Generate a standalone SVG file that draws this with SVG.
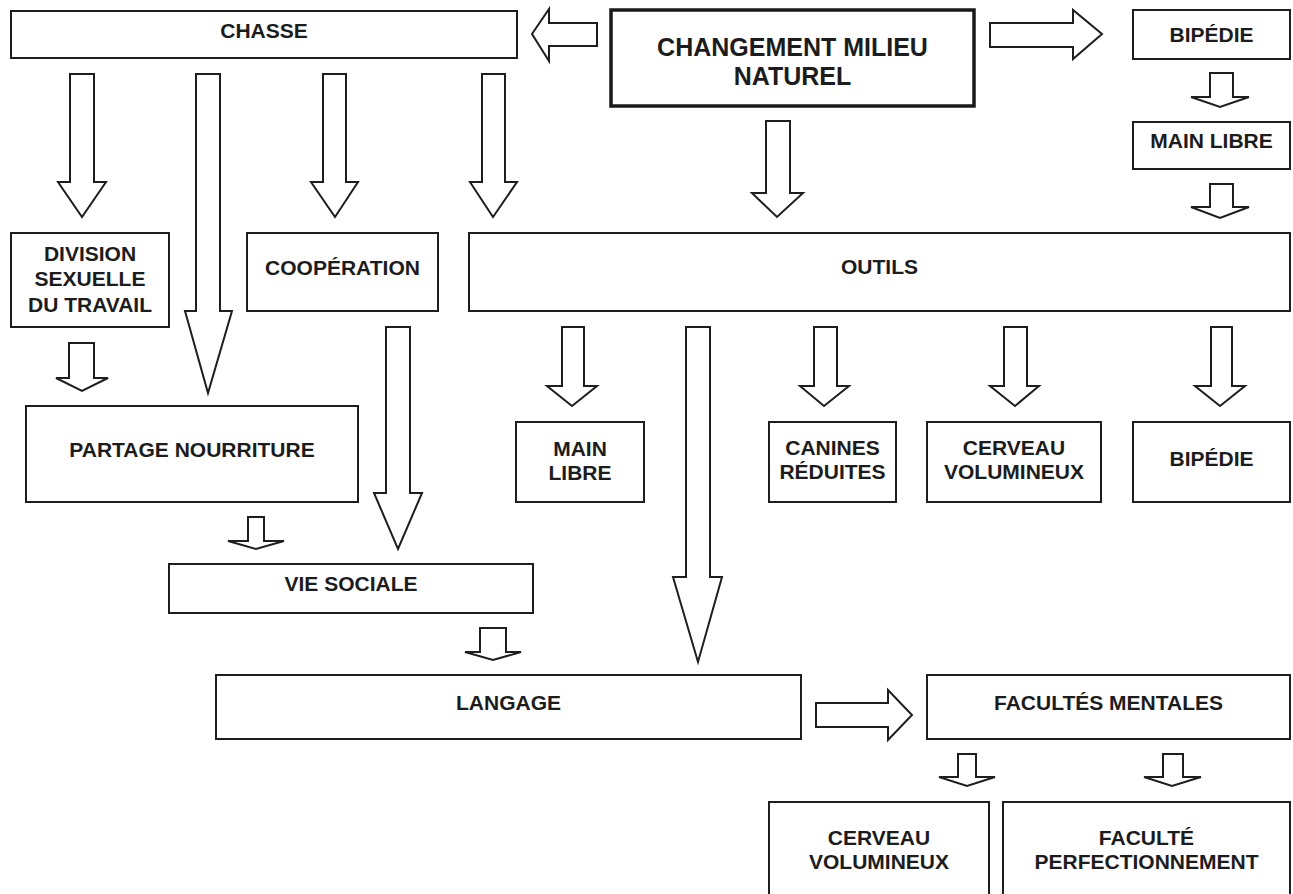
<svg xmlns="http://www.w3.org/2000/svg" width="1293" height="894" viewBox="0 0 1293 894">
  <style>
    .box { fill: #ffffff; stroke: #1e1e1e; stroke-width: 2; }
    .box-main { fill: #ffffff; stroke: #1a1a1a; stroke-width: 3.5; }
    .arrow { fill: #ffffff; stroke: #1e1e1e; stroke-width: 2; stroke-linejoin: miter; }
    .label { font-family: "Liberation Sans", Arial, Helvetica, sans-serif; font-weight: bold; font-size: 21px; fill: #1c1c1c; text-anchor: middle; }
    .label-main { font-family: "Liberation Sans", Arial, Helvetica, sans-serif; font-weight: bold; font-size: 25px; fill: #1c1c1c; text-anchor: middle; }
  </style>

  <rect x="0" y="0" width="1293" height="894" fill="#ffffff"/>

  <!-- Block arrows -->
  <g id="connectors">
    <!-- from CHANGEMENT MILIEU NATUREL -->
    <polygon class="arrow" points="597,23 597,46 549,46 549,61 532,34 549,9 549,23"/>
    <polygon class="arrow" points="990,23 1073,23 1073,10 1102,34 1073,59 1073,47 990,47"/>
    <polygon class="arrow" points="766,121 790,121 790,193 803,193 777,217 752,193 766,193"/>

    <!-- right column: BIPEDIE -> MAIN LIBRE -> OUTILS -->
    <polygon class="arrow" points="1210,73 1233,73 1233,97 1249,97 1220,107 1191,97 1210,97"/>
    <polygon class="arrow" points="1210,184 1233,184 1233,207 1249,207 1220,218 1191,207 1210,207"/>

    <!-- from CHASSE -->
    <polygon class="arrow" points="70,74 94,74 94,182 106,182 82,217 58,182 70,182"/>
    <polygon class="arrow" points="196,74 220,74 220,311 232,311 208,393 185,311 196,311"/>
    <polygon class="arrow" points="323,74 346,74 346,182 358,182 335,217 311,182 323,182"/>
    <polygon class="arrow" points="482,74 505,74 505,182 517,182 493,217 470,182 482,182"/>

    <!-- DIVISION -> PARTAGE -->
    <polygon class="arrow" points="69,343 94,343 94,378 108,378 82,391 56,378 69,378"/>
    <!-- COOPERATION -> VIE SOCIALE -->
    <polygon class="arrow" points="386,327 410,327 410,493 422,493 398,549 374,493 386,493"/>
    <!-- PARTAGE -> VIE SOCIALE -->
    <polygon class="arrow" points="248,517 264,517 264,541 284,541 256,549 228,541 248,541"/>
    <!-- VIE SOCIALE -> LANGAGE -->
    <polygon class="arrow" points="480,628 506,628 506,652 521,652 493,660 465,652 480,652"/>

    <!-- from OUTILS -->
    <polygon class="arrow" points="562,327 584,327 584,386 597,386 572,406 547,386 562,386"/>
    <polygon class="arrow" points="686,327 710,327 710,577 722,577 698,662 673,577 686,577"/>
    <polygon class="arrow" points="814,327 837,327 837,386 849,386 824,406 800,386 814,386"/>
    <polygon class="arrow" points="1004,327 1027,327 1027,386 1039,386 1015,406 990,386 1004,386"/>
    <polygon class="arrow" points="1211,327 1232,327 1232,386 1245,386 1220,406 1195,386 1211,386"/>

    <!-- LANGAGE -> FACULTES MENTALES -->
    <polygon class="arrow" points="816,703 888,703 888,690 912,715 888,740 888,727 816,727"/>

    <!-- from FACULTES MENTALES -->
    <polygon class="arrow" points="958,754 976,754 976,777 995,777 967,786 939,777 958,777"/>
    <polygon class="arrow" points="1163,754 1183,754 1183,777 1201,777 1172,786 1144,777 1163,777"/>
  </g>

  <!-- Nodes -->
  <g id="chasse">
    <rect class="box" x="11" y="11" width="506" height="47"/>
    <text class="label" x="264" y="37.5">CHASSE</text>
  </g>

  <g id="changement-milieu">
    <rect class="box-main" x="611" y="10" width="363" height="96"/>
    <text class="label-main" x="792.5" y="56">CHANGEMENT MILIEU</text>
    <text class="label-main" x="792.5" y="85">NATUREL</text>
  </g>

  <g id="bipedie-haut">
    <rect class="box" x="1133" y="10" width="157" height="49"/>
    <text class="label" x="1211.5" y="41.5">BIPÉDIE</text>
  </g>

  <g id="main-libre-haut">
    <rect class="box" x="1133" y="122" width="157" height="47"/>
    <text class="label" x="1211.5" y="147.5">MAIN LIBRE</text>
  </g>

  <g id="division-sexuelle">
    <rect class="box" x="11" y="233" width="158" height="94"/>
    <text class="label" x="90" y="260.5">DIVISION</text>
    <text class="label" x="90" y="286">SEXUELLE</text>
    <text class="label" x="90" y="311.5">DU TRAVAIL</text>
  </g>

  <g id="cooperation">
    <rect class="box" x="247" y="233" width="191" height="78"/>
    <text class="label" x="342.5" y="274.5">COOPÉRATION</text>
  </g>

  <g id="outils">
    <rect class="box" x="469" y="233" width="821" height="78"/>
    <text class="label" x="879.5" y="273.5">OUTILS</text>
  </g>

  <g id="partage-nourriture">
    <rect class="box" x="26" y="406" width="332" height="96"/>
    <text class="label" x="192" y="456.5">PARTAGE NOURRITURE</text>
  </g>

  <g id="main-libre">
    <rect class="box" x="516" y="422" width="128" height="80"/>
    <text class="label" x="580" y="455.5">MAIN</text>
    <text class="label" x="580" y="479.5">LIBRE</text>
  </g>

  <g id="canines-reduites">
    <rect class="box" x="769" y="422" width="127" height="80"/>
    <text class="label" x="832.5" y="454.5">CANINES</text>
    <text class="label" x="832.5" y="478.5">RÉDUITES</text>
  </g>

  <g id="cerveau-volumineux-outils">
    <rect class="box" x="927" y="422" width="174" height="80"/>
    <text class="label" x="1014" y="454.5">CERVEAU</text>
    <text class="label" x="1014" y="478.5">VOLUMINEUX</text>
  </g>

  <g id="bipedie">
    <rect class="box" x="1133" y="422" width="157" height="80"/>
    <text class="label" x="1211.5" y="465.5">BIPÉDIE</text>
  </g>

  <g id="vie-sociale">
    <rect class="box" x="169" y="564" width="364" height="49"/>
    <text class="label" x="351" y="590.5">VIE SOCIALE</text>
  </g>

  <g id="langage">
    <rect class="box" x="216" y="675" width="585" height="64"/>
    <text class="label" x="508.5" y="709.5">LANGAGE</text>
  </g>

  <g id="facultes-mentales">
    <rect class="box" x="927" y="675" width="363" height="64"/>
    <text class="label" x="1108.5" y="709.5">FACULTÉS MENTALES</text>
  </g>

  <g id="cerveau-volumineux">
    <rect class="box" x="769" y="802" width="220" height="100"/>
    <text class="label" x="879" y="844.5">CERVEAU</text>
    <text class="label" x="879" y="868.5">VOLUMINEUX</text>
  </g>

  <g id="faculte-perfectionnement">
    <rect class="box" x="1003" y="802" width="287" height="100"/>
    <text class="label" x="1146.5" y="844.5">FACULTÉ</text>
    <text class="label" x="1146.5" y="868.5">PERFECTIONNEMENT</text>
  </g>
</svg>
